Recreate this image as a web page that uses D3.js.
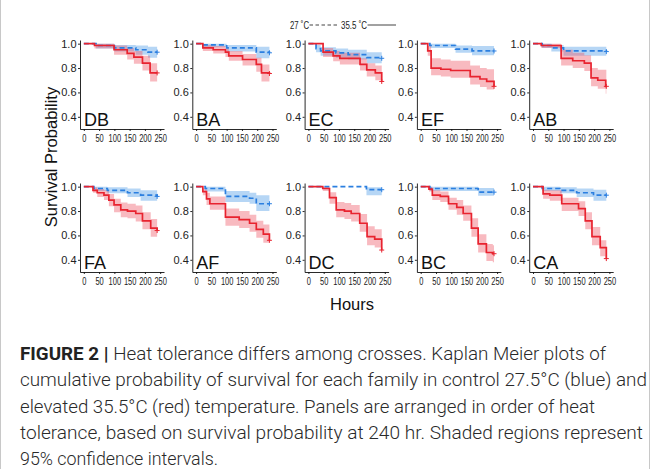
<!DOCTYPE html>
<html><head><meta charset="utf-8">
<script src="https://cdn.jsdelivr.net/npm/d3@7"></script>
<style>body{margin:0;background:#fff}text{font-family:"Liberation Sans",Arial,sans-serif}</style>
</head><body><svg id="c" width="650" height="469"></svg>
<script>
// ---- data: [hour, survival, lower95, upper95]
const panelsTop = ["DB","BA","EC","EF","AB"];
const panelsBottom = ["FA","AF","DC","BC","CA"];
const xTicks = [0,50,100,150,200,250];
const yTicks = [0.4,0.6,0.8,1.0];
const legendLabels = ["27 ˚C","35.5 ˚C"];

const hotDB = [[0,1,1,1],[35,0.985,0.96,1],[99,0.95,0.91,0.985],[142,0.92,0.87,0.965],[164,0.89,0.835,0.94],[192,0.84,0.78,0.9],[217,0.76,0.69,0.84],[240,0.76,0.69,0.84]];
const ctlDB = [[0,1,1,1],[40,0.985,0.96,1],[100,0.965,0.935,0.99],[170,0.95,0.91,0.985],[210,0.93,0.885,0.975],[240,0.93,0.885,0.975]];
const hotBA = [[0,1,1,1],[22,0.965,0.94,0.99],[56,0.95,0.92,0.98],[96,0.93,0.89,0.965],[107,0.9,0.86,0.94],[152,0.87,0.82,0.915],[197,0.83,0.77,0.885],[214,0.76,0.69,0.83],[240,0.755,0.68,0.82]];
const ctlBA = [[0,1,1,1],[22,0.99,0.97,1],[100,0.965,0.935,0.99],[197,0.93,0.88,0.975],[240,0.925,0.875,0.975]];
const hotEC = [[0,1,1,1],[48,0.93,0.89,0.965],[81,0.9,0.855,0.94],[103,0.88,0.83,0.925],[169,0.83,0.78,0.88],[191,0.785,0.73,0.84],[219,0.76,0.7,0.82],[240,0.69,0.63,0.75]];
const ctlEC = [[0,1,1,1],[25,0.96,0.93,0.99],[40,0.94,0.9,0.97],[90,0.925,0.885,0.96],[130,0.91,0.87,0.95],[191,0.885,0.84,0.93],[240,0.88,0.835,0.93]];
const hotEF = [[0,1,1,1],[23,0.94,0.9,0.98],[34,0.8,0.74,0.88],[66,0.79,0.73,0.87],[98,0.78,0.72,0.86],[162,0.73,0.665,0.82],[194,0.71,0.645,0.8],[216,0.69,0.625,0.79],[240,0.65,0.6,0.78]];
const ctlEF = [[0,1,1,1],[30,0.985,0.965,1],[114,0.955,0.925,0.985],[168,0.94,0.905,0.98],[240,0.94,0.905,0.98]];
const hotAB = [[0,1,1,1],[27,0.985,0.965,1],[92,0.88,0.82,0.95],[130,0.86,0.8,0.925],[168,0.84,0.775,0.905],[190,0.72,0.65,0.8],[212,0.7,0.63,0.785],[238,0.65,0.59,0.785],[240,0.65,0.59,0.785]];
const ctlAB = [[0,1,1,1],[30,0.985,0.965,1],[60,0.965,0.935,0.99],[100,0.94,0.9,0.975],[240,0.935,0.895,0.975]];
const hotFA = [[0,1,1,1],[30,0.97,0.95,0.995],[44,0.95,0.915,0.98],[66,0.93,0.89,0.97],[82,0.89,0.84,0.94],[99,0.85,0.79,0.9],[121,0.81,0.75,0.87],[143,0.8,0.74,0.86],[170,0.78,0.715,0.845],[192,0.72,0.65,0.79],[219,0.66,0.59,0.735],[240,0.64,0.58,0.72]];
const ctlFA = [[0,1,1,1],[33,0.985,0.965,1],[77,0.97,0.945,0.995],[143,0.95,0.915,0.985],[186,0.93,0.885,0.97],[240,0.92,0.875,0.965]];
const hotAF = [[0,1,1,1],[22,0.96,0.93,0.99],[34,0.9,0.85,0.95],[45,0.86,0.81,0.92],[96,0.75,0.68,0.82],[141,0.73,0.66,0.8],[175,0.7,0.63,0.77],[197,0.65,0.58,0.72],[220,0.61,0.54,0.69],[240,0.56,0.52,0.68]];
const ctlAF = [[0,1,1,1],[30,0.985,0.96,1],[96,0.92,0.875,0.965],[175,0.905,0.86,0.95],[197,0.86,0.8,0.93],[240,0.86,0.8,0.93]];
const hotDC = [[0,1,1,1],[47,0.985,0.965,1],[69,0.91,0.86,0.955],[91,0.81,0.75,0.875],[118,0.8,0.735,0.865],[140,0.78,0.715,0.85],[168,0.7,0.63,0.775],[192,0.59,0.52,0.675],[217,0.57,0.5,0.65],[240,0.48,0.42,0.6]];
const ctlDC = [[0,1,1,1],[190,0.975,0.93,0.995],[240,0.975,0.93,0.995]];
const hotBC = [[0,1,1,1],[27,0.98,0.96,1],[38,0.93,0.89,0.97],[64,0.92,0.875,0.96],[91,0.86,0.81,0.91],[118,0.83,0.77,0.89],[139,0.78,0.72,0.845],[166,0.66,0.59,0.74],[188,0.53,0.46,0.61],[215,0.46,0.39,0.53],[236,0.45,0.38,0.52],[240,0.45,0.38,0.52]];
const ctlBC = [[0,1,1,1],[30,0.985,0.965,1],[188,0.955,0.925,0.99],[240,0.955,0.925,0.99]];
const hotCA = [[0,1,1,1],[33,0.94,0.9,0.975],[55,0.93,0.885,0.97],[94,0.86,0.8,0.91],[149,0.82,0.76,0.88],[171,0.72,0.65,0.79],[193,0.59,0.52,0.67],[220,0.5,0.43,0.56],[240,0.41,0.38,0.56]];
const ctlCA = [[0,1,1,1],[30,0.985,0.965,1],[88,0.97,0.945,0.995],[143,0.95,0.915,0.985],[198,0.93,0.885,0.975],[240,0.93,0.885,0.975]];

const seriesData = {DB:[ctlDB,hotDB],BA:[ctlBA,hotBA],EC:[ctlEC,hotEC],EF:[ctlEF,hotEF],AB:[ctlAB,hotAB],
  FA:[ctlFA,hotFA],AF:[ctlAF,hotAF],DC:[ctlDC,hotDC],BC:[ctlBC,hotBC],CA:[ctlCA,hotCA]};

const captionLines = [
  "Heat tolerance differs among crosses. Kaplan Meier plots of",
  "cumulative probability of survival for each family in control 27.5°C (blue) and",
  "elevated 35.5°C (red) temperature. Panels are arranged in order of heat",
  "tolerance, based on survival probability at 240 hr. Shaded regions represent",
  "95% confidence intervals."
];

// ---- drawing
const svg = d3.select("#c");
const W = 650, H = 469;
svg.append("rect").attr("width",W).attr("height",H).attr("fill","#fff");
svg.append("line").attr("x1",0.5).attr("x2",0.5).attr("y1",0).attr("y2",H).attr("stroke","#c8c8c8");
svg.append("line").attr("x1",W-0.5).attr("x2",W-0.5).attr("y1",0).attr("y2",H).attr("stroke","#c8c8c8");

const PX0 = 80, PDX = 112.3, PW = 84, PH = 89, rowY = [40,183];
const col = {ctl:{line:"#2b7fe0",fill:"#5ea3e8",fo:0.45}, hot:{line:"#e8232f",fill:"#ef5a6a",fo:0.42}};

function panel(name, i, r){
  const x0 = PX0 + i*PDX, y0 = rowY[r];
  const x = d3.scaleLinear().domain([-12.5,262.5]).range([x0,x0+PW]);
  const y = d3.scaleLinear().domain([0.30,1.03]).range([y0+PH,y0]);
  const g = svg.append("g");
  const [ctl,hot] = seriesData[name];
  const area = d3.area().curve(d3.curveStepAfter).x(d=>x(d[0])).y0(d=>y(d[2])).y1(d=>y(d[3]));
  const line = d3.line().curve(d3.curveStepAfter).x(d=>x(d[0])).y(d=>y(d[1]));
  g.append("path").attr("d",area(ctl)).attr("fill",col.ctl.fill).attr("fill-opacity",col.ctl.fo);
  g.append("path").attr("d",area(hot)).attr("fill",col.hot.fill).attr("fill-opacity",col.hot.fo);
  g.append("path").attr("d",line(ctl)).attr("fill","none").attr("stroke",col.ctl.line).attr("stroke-width",1.7).attr("stroke-dasharray","5,3");
  g.append("path").attr("d",line(hot)).attr("fill","none").attr("stroke",col.hot.line).attr("stroke-width",1.7);
  [[ctl,col.ctl.line],[hot,col.hot.line]].forEach(([s,c])=>{
    const e = s[s.length-1], cx = x(e[0]), cy = y(e[1]);
    g.append("path").attr("d",`M${cx-2.5},${cy}H${cx+2.5}M${cx},${cy-2.5}V${cy+2.5}`).attr("stroke",c).attr("stroke-width",1);
  });
  const ya = g.append("g").attr("transform",`translate(${x0},0)`)
    .call(d3.axisLeft(y).tickValues(yTicks).tickFormat(d3.format(".1f")).tickSize(2).tickPadding(1.5).tickSizeOuter(0));
  const xa = g.append("g").attr("transform",`translate(0,${y0+PH})`)
    .call(d3.axisBottom(x).tickValues(xTicks).tickSize(2).tickPadding(3.5).tickSizeOuter(0));
  [ya,xa].forEach(a=>{a.attr("font-size",null).attr("font-family",null);
    a.selectAll("path,line").attr("stroke","#111").attr("stroke-width",0.9);
    a.selectAll("text").attr("fill","#222");});
  ya.selectAll("text").style("font-size","11px");
  xa.selectAll("text").style("font-size","10px").attr("transform","scale(0.75,1)");
  g.append("text").attr("x",x0+4).attr("y",y0+PH-3).text(name).style("font-size","18px").attr("fill","#111");
}
panelsTop.forEach((n,i)=>panel(n,i,0));
panelsBottom.forEach((n,i)=>panel(n,i,1));

// legend
const lg = svg.append("g").style("font-size","11.5px").attr("fill","#222");
lg.append("text").attr("x",290).attr("y",29).attr("textLength",19).attr("lengthAdjust","spacingAndGlyphs").text(legendLabels[0]);
lg.append("line").attr("x1",309.5).attr("x2",338).attr("y1",25).attr("y2",25).attr("stroke","#444").attr("stroke-width",1).attr("stroke-dasharray","3.5,2.5");
lg.append("text").attr("x",341).attr("y",29).attr("textLength",26).attr("lengthAdjust","spacingAndGlyphs").text(legendLabels[1]);
lg.append("line").attr("x1",367.5).attr("x2",396).attr("y1",25).attr("y2",25).attr("stroke","#444").attr("stroke-width",1);

// axis titles
svg.append("text").attr("transform","translate(57,157) rotate(-90)").attr("text-anchor","middle")
  .style("font-size","16.5px").attr("fill","#111").text("Survival Probability");
svg.append("text").attr("x",352).attr("y",310).attr("text-anchor","middle")
  .style("font-size","16.5px").attr("fill","#111").text("Hours");

// caption
const capW = [586,627,575,623,198];
captionLines.forEach((t,i)=>{
  const tx = svg.append("text").attr("x",20).attr("y",360+26.3*i).attr("fill","#2a2a2a")
    .attr("textLength",capW[i]).attr("lengthAdjust","spacingAndGlyphs")
    .style("font-size","18px").style("font-family","Roboto, Liberation Sans").style("font-weight","300");
  if(i===0){ tx.append("tspan").style("font-weight","700").attr("fill","#222").text("FIGURE 2 | "); }
  tx.append("tspan").text(t);
});
</script></body></html>
